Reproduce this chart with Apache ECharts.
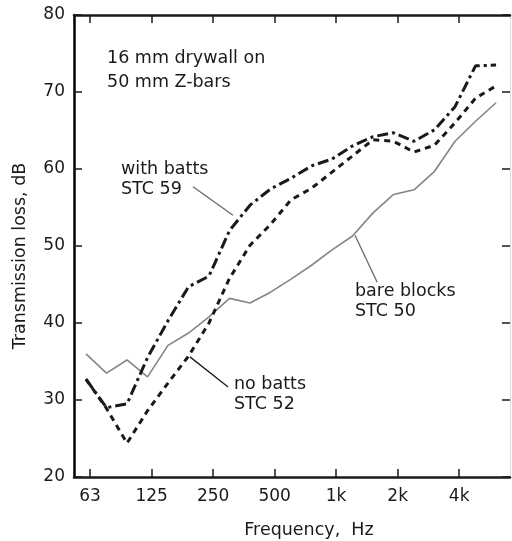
<!DOCTYPE html>
<html>
<head>
<meta charset="utf-8">
<script src="https://cdn.jsdelivr.net/npm/echarts@6/dist/echarts.min.js"></script>
<style>
  html, body { margin: 0; padding: 0; background: #fff; }
  #chart { width: 512px; height: 541px; }
</style>
</head>
<body>
<div id="chart"></div>
<script>
// 1/3 octave bands, x = band index
const bands = ['63','80','100','125','160','200','250','315','400','500','630','800',
               '1k','1.25k','1.6k','2k','2.5k','3.15k','4k','5k','6.3k'];
const tickLabels = ['63','125','250','500','1k','2k','4k'];

// transmission loss, dB
const withBatts = [32.7, 29.0, 29.5, 35.5, 40.3, 44.7, 46.1, 52.0, 55.3, 57.4, 58.8,
                   60.4, 61.3, 63.0, 64.2, 64.7, 63.6, 65.1, 68.1, 73.4, 73.5];
const noBatts   = [32.7, 28.9, 24.4, 28.6, 32.2, 35.7, 40.0, 45.8, 50.1, 52.8, 56.0,
                   57.5, 59.6, 61.7, 63.8, 63.6, 62.2, 63.1, 66.0, 69.2, 70.8];
const bareBlocks = [36.0, 33.5, 35.2, 33.0, 37.1, 38.7, 40.8, 43.2, 42.6, 44.0, 45.7,
                    47.5, 49.5, 51.3, 54.3, 56.7, 57.3, 59.7, 63.6, 66.2, 68.6];

const FONT = '"DejaVu Sans", Arial, sans-serif';
const INK = '#1a1a1a';
const TICK_OFF = 0.2;   // printed ticks sit slightly right of the band points

let tickPos = tickLabels.map(t => bands.indexOf(t) + TICK_OFF);
function toPts(arr){ return arr.map((v,i)=>[i,v]); }
function tickName(v){
  let i = Math.round(v - TICK_OFF);
  return bands[i];
}

let myChart = echarts.init(document.getElementById('chart'));
myChart.setOption({
  animation: false,
  backgroundColor: '#fff',
  grid: { left: 74, right: 2, top: 15, bottom: 64 },
  xAxis: [
    {
      type: 'value', min: -0.585, max: 20.68, position: 'bottom',
      splitLine: { show: false },
      axisLine: { onZero: false, lineStyle: { color: INK, width: 2.5 } },
      axisTick: { inside: true, length: 8, customValues: tickPos, lineStyle: { color: INK, width: 1.5 } },
      axisLabel: { customValues: tickPos, formatter: tickName, color: INK, fontSize: 17, fontFamily: FONT, margin: 11 },
    },
    {
      type: 'value', min: -0.585, max: 20.68, position: 'top',
      splitLine: { show: false },
      axisLine: { onZero: false, lineStyle: { color: INK, width: 2.5 } },
      axisTick: { inside: true, length: 8, customValues: tickPos, lineStyle: { color: INK, width: 1.5 } },
      axisLabel: { show: false },
    }
  ],
  yAxis: [
    {
      type: 'value', min: 20, max: 80, interval: 10, position: 'left',
      splitLine: { show: false },
      axisLine: { show: true, onZero: false, lineStyle: { color: '#000', width: 2.5 } },
      axisTick: { show: true, inside: true, length: 8, lineStyle: { color: INK, width: 1.5 } },
      axisLabel: { color: INK, fontSize: 17, fontFamily: FONT, margin: 9 },
    },
    {
      type: 'value', min: 20, max: 80, interval: 10, position: 'right',
      splitLine: { show: false },
      axisLine: { show: true, onZero: false, lineStyle: { color: '#dddddd', width: 1 } },
      axisTick: { show: true, inside: true, length: 8, lineStyle: { color: INK, width: 1.5 } },
      axisLabel: { show: false },
    }
  ],
  series: [
    {
      name: 'bare blocks', type: 'line', data: toPts(bareBlocks),
      symbol: 'none', z: 2,
      lineStyle: { color: '#858585', width: 1.6 },
      markLine: {
        silent: true, symbol: 'none', label: { show: false },
        lineStyle: { color: '#6a6a6a', width: 1.3, type: 'solid' },
        data: [
          [{ coord: [13.12, 51.4] }, { coord: [14.2, 45.3] }],
          [{ coord: [5.22, 57.7] }, { coord: [7.17, 54.0] }],
        ]
      }
    },
    {
      name: 'no batts', type: 'line', data: toPts(noBatts),
      symbol: 'none', z: 3,
      lineStyle: { color: INK, width: 3, type: [6, 5] },
      markLine: {
        silent: true, symbol: 'none', label: { show: false },
        lineStyle: { color: INK, width: 1.3, type: 'solid' },
        data: [
          [{ coord: [5.07, 35.6] }, { coord: [6.93, 31.7] }],
        ]
      }
    },
    {
      name: 'with batts', type: 'line', data: toPts(withBatts),
      symbol: 'none', z: 4,
      lineStyle: { color: INK, width: 3, type: [11, 4, 3, 4] },
    }
  ],
  graphic: [
    { type: 'text', left: 107, top: 46, style: { text: '16 mm drywall on\n50 mm Z-bars', font: '17.5px ' + FONT, fill: INK, lineHeight: 24 } },
    { type: 'text', left: 121, top: 159, style: { text: 'with batts\nSTC 59', font: '17.5px ' + FONT, fill: INK, lineHeight: 20 } },
    { type: 'text', left: 234, top: 374, style: { text: 'no batts\nSTC 52', font: '17.5px ' + FONT, fill: INK, lineHeight: 20 } },
    { type: 'text', left: 355, top: 281, style: { text: 'bare blocks\nSTC 50', font: '17.5px ' + FONT, fill: INK, lineHeight: 20 } },
    { type: 'text', x: 20, y: 256, rotation: Math.PI / 2,
      style: { text: 'Transmission loss, dB', font: '17.5px ' + FONT, fill: INK, align: 'center', verticalAlign: 'middle' } },
    { type: 'text', x: 309, y: 530,
      style: { text: 'Frequency,  Hz', font: '17.5px ' + FONT, fill: INK, align: 'center', verticalAlign: 'middle' } },
  ]
});
</script>
</body>
</html>
